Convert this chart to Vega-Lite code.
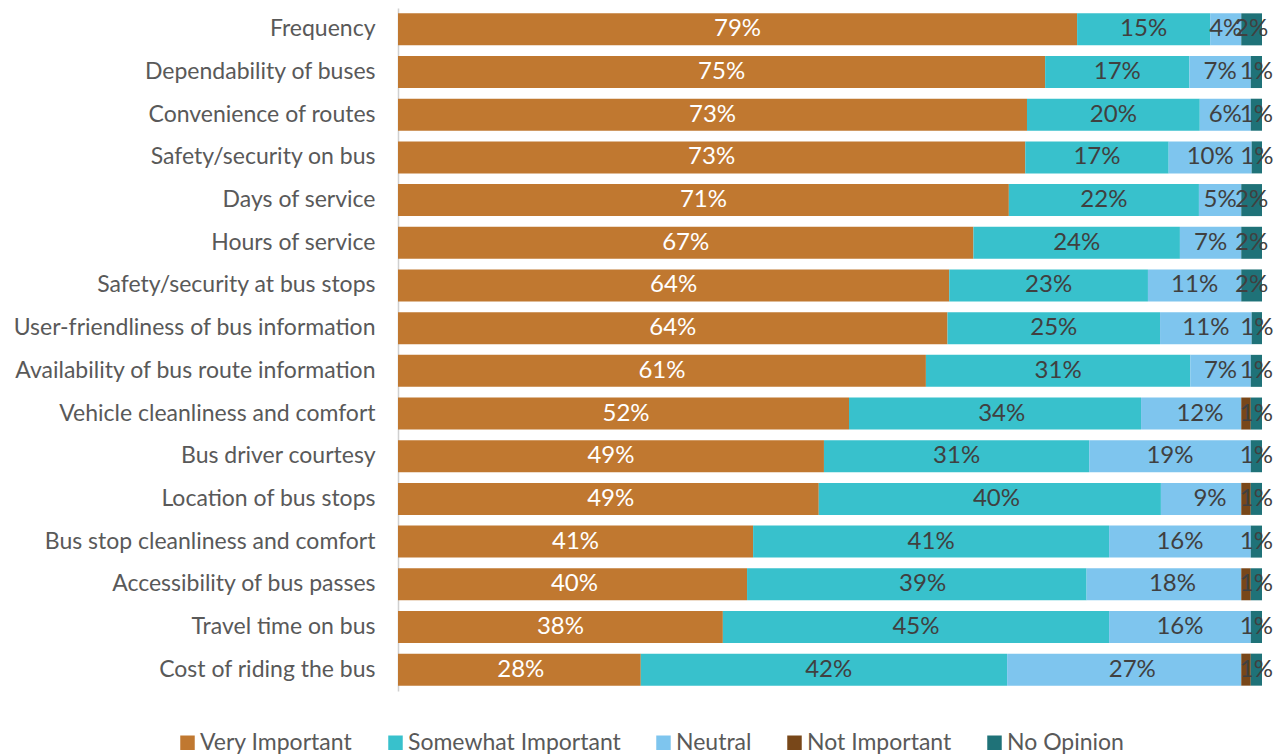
{
  "$schema": "https://vega.github.io/schema/vega-lite/v6.json",
  "width": 864,
  "height": 683,
  "autosize": "none",
  "padding": {"left": 398, "top": 8, "right": 22, "bottom": 65},
  "background": "white",
  "config": {"view": {"stroke": null}, "font": "Lato"},
  "data": {"values": [
    {"item": "Frequency", "cat": "Very Important", "o": 1, "v": 0.786},
    {"item": "Frequency", "cat": "Somewhat Important", "o": 2, "v": 0.154},
    {"item": "Frequency", "cat": "Neutral", "o": 3, "v": 0.036},
    {"item": "Frequency", "cat": "Not Important", "o": 4, "v": 0},
    {"item": "Frequency", "cat": "No Opinion", "o": 5, "v": 0.024},
    {"item": "Dependability of buses", "cat": "Very Important", "o": 1, "v": 0.749},
    {"item": "Dependability of buses", "cat": "Somewhat Important", "o": 2, "v": 0.167},
    {"item": "Dependability of buses", "cat": "Neutral", "o": 3, "v": 0.071},
    {"item": "Dependability of buses", "cat": "Not Important", "o": 4, "v": 0},
    {"item": "Dependability of buses", "cat": "No Opinion", "o": 5, "v": 0.013},
    {"item": "Convenience of routes", "cat": "Very Important", "o": 1, "v": 0.728},
    {"item": "Convenience of routes", "cat": "Somewhat Important", "o": 2, "v": 0.200},
    {"item": "Convenience of routes", "cat": "Neutral", "o": 3, "v": 0.059},
    {"item": "Convenience of routes", "cat": "Not Important", "o": 4, "v": 0},
    {"item": "Convenience of routes", "cat": "No Opinion", "o": 5, "v": 0.013},
    {"item": "Safety/security on bus", "cat": "Very Important", "o": 1, "v": 0.726},
    {"item": "Safety/security on bus", "cat": "Somewhat Important", "o": 2, "v": 0.166},
    {"item": "Safety/security on bus", "cat": "Neutral", "o": 3, "v": 0.096},
    {"item": "Safety/security on bus", "cat": "Not Important", "o": 4, "v": 0},
    {"item": "Safety/security on bus", "cat": "No Opinion", "o": 5, "v": 0.012},
    {"item": "Days of service", "cat": "Very Important", "o": 1, "v": 0.707},
    {"item": "Days of service", "cat": "Somewhat Important", "o": 2, "v": 0.220},
    {"item": "Days of service", "cat": "Neutral", "o": 3, "v": 0.049},
    {"item": "Days of service", "cat": "Not Important", "o": 4, "v": 0},
    {"item": "Days of service", "cat": "No Opinion", "o": 5, "v": 0.024},
    {"item": "Hours of service", "cat": "Very Important", "o": 1, "v": 0.666},
    {"item": "Hours of service", "cat": "Somewhat Important", "o": 2, "v": 0.239},
    {"item": "Hours of service", "cat": "Neutral", "o": 3, "v": 0.071},
    {"item": "Hours of service", "cat": "Not Important", "o": 4, "v": 0},
    {"item": "Hours of service", "cat": "No Opinion", "o": 5, "v": 0.024},
    {"item": "Safety/security at bus stops", "cat": "Very Important", "o": 1, "v": 0.638},
    {"item": "Safety/security at bus stops", "cat": "Somewhat Important", "o": 2, "v": 0.230},
    {"item": "Safety/security at bus stops", "cat": "Neutral", "o": 3, "v": 0.108},
    {"item": "Safety/security at bus stops", "cat": "Not Important", "o": 4, "v": 0},
    {"item": "Safety/security at bus stops", "cat": "No Opinion", "o": 5, "v": 0.024},
    {"item": "User-friendliness of bus information", "cat": "Very Important", "o": 1, "v": 0.636},
    {"item": "User-friendliness of bus information", "cat": "Somewhat Important", "o": 2, "v": 0.246},
    {"item": "User-friendliness of bus information", "cat": "Neutral", "o": 3, "v": 0.106},
    {"item": "User-friendliness of bus information", "cat": "Not Important", "o": 4, "v": 0},
    {"item": "User-friendliness of bus information", "cat": "No Opinion", "o": 5, "v": 0.012},
    {"item": "Availability of bus route information", "cat": "Very Important", "o": 1, "v": 0.611},
    {"item": "Availability of bus route information", "cat": "Somewhat Important", "o": 2, "v": 0.306},
    {"item": "Availability of bus route information", "cat": "Neutral", "o": 3, "v": 0.070},
    {"item": "Availability of bus route information", "cat": "Not Important", "o": 4, "v": 0},
    {"item": "Availability of bus route information", "cat": "No Opinion", "o": 5, "v": 0.013},
    {"item": "Vehicle cleanliness and comfort", "cat": "Very Important", "o": 1, "v": 0.522},
    {"item": "Vehicle cleanliness and comfort", "cat": "Somewhat Important", "o": 2, "v": 0.338},
    {"item": "Vehicle cleanliness and comfort", "cat": "Neutral", "o": 3, "v": 0.116},
    {"item": "Vehicle cleanliness and comfort", "cat": "Not Important", "o": 4, "v": 0.011},
    {"item": "Vehicle cleanliness and comfort", "cat": "No Opinion", "o": 5, "v": 0.013},
    {"item": "Bus driver courtesy", "cat": "Very Important", "o": 1, "v": 0.493},
    {"item": "Bus driver courtesy", "cat": "Somewhat Important", "o": 2, "v": 0.307},
    {"item": "Bus driver courtesy", "cat": "Neutral", "o": 3, "v": 0.187},
    {"item": "Bus driver courtesy", "cat": "Not Important", "o": 4, "v": 0},
    {"item": "Bus driver courtesy", "cat": "No Opinion", "o": 5, "v": 0.013},
    {"item": "Location of bus stops", "cat": "Very Important", "o": 1, "v": 0.487},
    {"item": "Location of bus stops", "cat": "Somewhat Important", "o": 2, "v": 0.396},
    {"item": "Location of bus stops", "cat": "Neutral", "o": 3, "v": 0.093},
    {"item": "Location of bus stops", "cat": "Not Important", "o": 4, "v": 0.011},
    {"item": "Location of bus stops", "cat": "No Opinion", "o": 5, "v": 0.013},
    {"item": "Bus stop cleanliness and comfort", "cat": "Very Important", "o": 1, "v": 0.411},
    {"item": "Bus stop cleanliness and comfort", "cat": "Somewhat Important", "o": 2, "v": 0.412},
    {"item": "Bus stop cleanliness and comfort", "cat": "Neutral", "o": 3, "v": 0.164},
    {"item": "Bus stop cleanliness and comfort", "cat": "Not Important", "o": 4, "v": 0},
    {"item": "Bus stop cleanliness and comfort", "cat": "No Opinion", "o": 5, "v": 0.013},
    {"item": "Accessibility of bus passes", "cat": "Very Important", "o": 1, "v": 0.404},
    {"item": "Accessibility of bus passes", "cat": "Somewhat Important", "o": 2, "v": 0.393},
    {"item": "Accessibility of bus passes", "cat": "Neutral", "o": 3, "v": 0.179},
    {"item": "Accessibility of bus passes", "cat": "Not Important", "o": 4, "v": 0.011},
    {"item": "Accessibility of bus passes", "cat": "No Opinion", "o": 5, "v": 0.013},
    {"item": "Travel time on bus", "cat": "Very Important", "o": 1, "v": 0.376},
    {"item": "Travel time on bus", "cat": "Somewhat Important", "o": 2, "v": 0.447},
    {"item": "Travel time on bus", "cat": "Neutral", "o": 3, "v": 0.164},
    {"item": "Travel time on bus", "cat": "Not Important", "o": 4, "v": 0},
    {"item": "Travel time on bus", "cat": "No Opinion", "o": 5, "v": 0.013},
    {"item": "Cost of riding the bus", "cat": "Very Important", "o": 1, "v": 0.281},
    {"item": "Cost of riding the bus", "cat": "Somewhat Important", "o": 2, "v": 0.424},
    {"item": "Cost of riding the bus", "cat": "Neutral", "o": 3, "v": 0.271},
    {"item": "Cost of riding the bus", "cat": "Not Important", "o": 4, "v": 0.011},
    {"item": "Cost of riding the bus", "cat": "No Opinion", "o": 5, "v": 0.013}
  ]},
  "encoding": {
    "y": {
      "field": "item", "type": "nominal", "sort": null,
      "scale": {"paddingInner": 0.25, "paddingOuter": 0.125},
      "axis": {"title": null, "ticks": false, "labelFontSize": 23, "labelColor": "#595959", "labelPadding": 23, "domainColor": "#d0d0d0", "domainWidth": 1.5, "labelLimit": 400}
    },
    "x": {"field": "v", "type": "quantitative", "stack": "normalize", "axis": null, "scale": {"domain": [0, 1]}},
    "order": {"field": "o", "type": "quantitative"}
  },
  "layer": [
    {
      "mark": {"type": "bar"},
      "encoding": {
        "color": {
          "field": "cat", "type": "nominal",
          "scale": {
            "domain": ["Very Important", "Somewhat Important", "Neutral", "Not Important", "No Opinion"],
            "range": ["#C07830", "#38C1CC", "#7EC5EE", "#784719", "#1F7278"]
          },
          "legend": {
            "title": null, "orient": "none", "direction": "horizontal",
            "legendX": -222, "legendY": 723,
            "symbolType": "square", "symbolSize": 210, "symbolStrokeWidth": 0,
            "labelFontSize": 23, "labelColor": "#595959", "labelOffset": 1,
            "columnPadding": 31, "labelLimit": 300
          }
        }
      }
    },
    {
      "transform": [{"filter": "datum.v > 0 && datum.cat !== 'Not Important'"}],
      "mark": {"type": "text", "fontSize": 24, "baseline": "middle", "align": "center"},
      "encoding": {
        "x": {"field": "v", "type": "quantitative", "stack": "normalize", "bandPosition": 0.5},
        "text": {"field": "v", "type": "quantitative", "format": ".0%"},
        "color": {"condition": {"test": "datum.cat === 'Very Important'", "value": "white"}, "value": "#404040"}
      }
    }
  ]
}
